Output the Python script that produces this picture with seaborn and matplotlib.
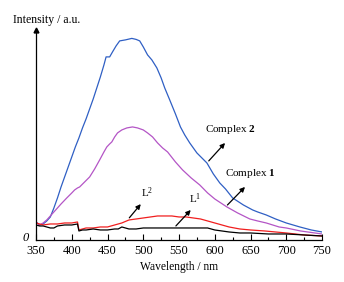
import numpy as np
import pandas as pd
import matplotlib
matplotlib.use("Agg")
import matplotlib.pyplot as plt
import seaborn as sns

# emission spectra (wavelength nm, intensity a.u.)
wl_c2 = [350, 355, 360, 365, 370, 375, 380, 385, 390, 395, 400, 405, 410, 415, 420,
         425, 430, 435, 440, 445, 448, 453, 457, 462, 467, 475, 484, 490, 495, 500,
         506, 512, 519, 525, 530, 537, 545, 552, 558, 565, 575, 589, 598, 607, 615,
         625, 640, 653, 660, 672, 685, 700, 719, 735, 750]
int_c2 = [18, 15, 16, 19, 23, 32, 42, 53, 63, 73, 83, 93, 102, 112, 121,
          131, 141, 152, 163, 175, 183, 183, 188, 194, 199, 200, 201.5, 200.5, 199, 193,
          185, 180, 172, 162, 152, 140, 126, 113, 105, 97, 87, 77, 66, 57, 51,
          42, 35, 30, 28, 25, 21, 17, 13, 10, 8]

wl_c1 = [350, 355, 360, 365, 370, 375, 380, 385, 393, 400, 404, 408, 411, 418, 425,
         432, 439, 445, 449, 453, 456, 460, 464, 470, 477, 485, 492, 500, 506, 513,
         520, 527, 534, 545, 555, 567, 579, 590, 600, 617, 632, 649, 660, 672, 690,
         700, 720, 750]
int_c1 = [18, 15, 17, 20, 24, 28, 32, 36, 42, 47, 50, 52, 53, 58, 63,
          71, 80, 88, 93, 96, 98, 103, 107, 110, 112, 113, 112, 110, 107, 103,
          97, 92, 88, 78, 70, 62, 55, 47, 41, 33, 27, 21, 19, 17, 13,
          12, 9, 6]

wl_l2 = [350, 355, 360, 370, 380, 390, 400, 408, 410, 415, 420, 430, 440, 450, 460,
         470, 480, 490, 500, 510, 520, 530, 540, 550, 560, 570, 580, 590, 600, 610,
         620, 635, 650, 670, 700, 725, 750]
int_l2 = [17, 16, 15, 16, 16, 17, 17, 18, 10, 11, 12, 12, 13, 13, 15,
          17, 20, 21, 22, 23, 24, 24, 24, 23, 23, 22, 21, 19, 17, 15,
          13, 11, 10, 9, 7, 5, 4]

wl_l1 = [350, 355, 360, 365, 370, 375, 380, 390, 400, 408, 410, 415, 420, 430, 440,
         450, 460, 465, 470, 475, 480, 490, 500, 520, 550, 570, 590, 600, 610, 620,
         635, 650, 675, 700, 725, 750]
int_l1 = [15, 14, 14, 13, 12, 12, 14, 15, 15, 16, 9, 10, 10, 11, 10,
          10, 11, 11, 13, 12, 11, 11, 12, 12, 12, 12, 12, 10, 9, 8,
          7, 7, 6, 6, 5, 4]

plt.rcParams["font.family"] = ["Liberation Serif", "DejaVu Serif"]
plt.rcParams["mathtext.fontset"] = "custom"
plt.rcParams["mathtext.rm"] = "Liberation Serif"
plt.rcParams["mathtext.it"] = "Liberation Serif:italic"
plt.rcParams["mathtext.bf"] = "Liberation Serif:bold"

fig = plt.figure(figsize=(3.44, 2.82), dpi=100)
ax = fig.add_axes([0.1047, 0.149, 0.8314, 0.745])

sns.lineplot(x=wl_c2, y=int_c2, color="#2f5fc4", lw=0.9, ax=ax)
sns.lineplot(x=wl_c1, y=int_c1, color="#b455c6", lw=0.9, ax=ax)
sns.lineplot(x=wl_l2, y=int_l2, color="#f01e1e", lw=0.9, ax=ax)
sns.lineplot(x=wl_l1, y=int_l1, color="black", lw=0.9, ax=ax)

ax.set_xlim(350, 750)
ax.set_ylim(0, 210)
ax.set_xticks(np.arange(350, 751, 50))
ax.set_xticks(np.arange(375, 751, 50), minor=True)
ax.tick_params(axis="x", which="major", direction="in", length=4, width=0.8, labelsize=9, pad=3.5)
ax.tick_params(axis="x", which="minor", direction="in", length=2.5, width=0.8)
ax.set_yticks([])
for s in ["top", "right"]:
    ax.spines[s].set_visible(False)
ax.spines["left"].set_linewidth(0.9)
ax.spines["bottom"].set_linewidth(0.9)
ax.plot([0], [1], marker="^", color="black", markersize=3.5,
        transform=ax.transAxes, clip_on=False)

ax.set_xlabel("Wavelength / nm", fontsize=8.3, labelpad=3)
ax.set_ylabel("")
fig.text(0.135, 0.929, "Intensity / a.u.", fontsize=8.5, ha="center", va="center")
ax.text(-0.025, 0.01, "0", style="italic", fontsize=9, ha="right", va="center",
        transform=ax.transAxes)

arrow = dict(arrowstyle="-|>", color="black", lw=0.9, mutation_scale=7)
notes = [
    ("L$^2$", (478, 20), (499, 38), (505, 47)),
    ("L$^1$", (543, 12), (569, 32), (572, 41)),
    ("Complex $\\mathbf{2}$", (589, 77), (617, 99), (622, 110)),
    ("Complex $\\mathbf{1}$", (615, 33), (645, 55), (650, 66)),
]
for label, tail, head, pos in notes:
    ax.annotate("", xy=head, xytext=tail, arrowprops=arrow)
    ax.text(pos[0], pos[1], label, fontsize=8, ha="center", va="center")

fig.savefig("out.png", dpi=100)
